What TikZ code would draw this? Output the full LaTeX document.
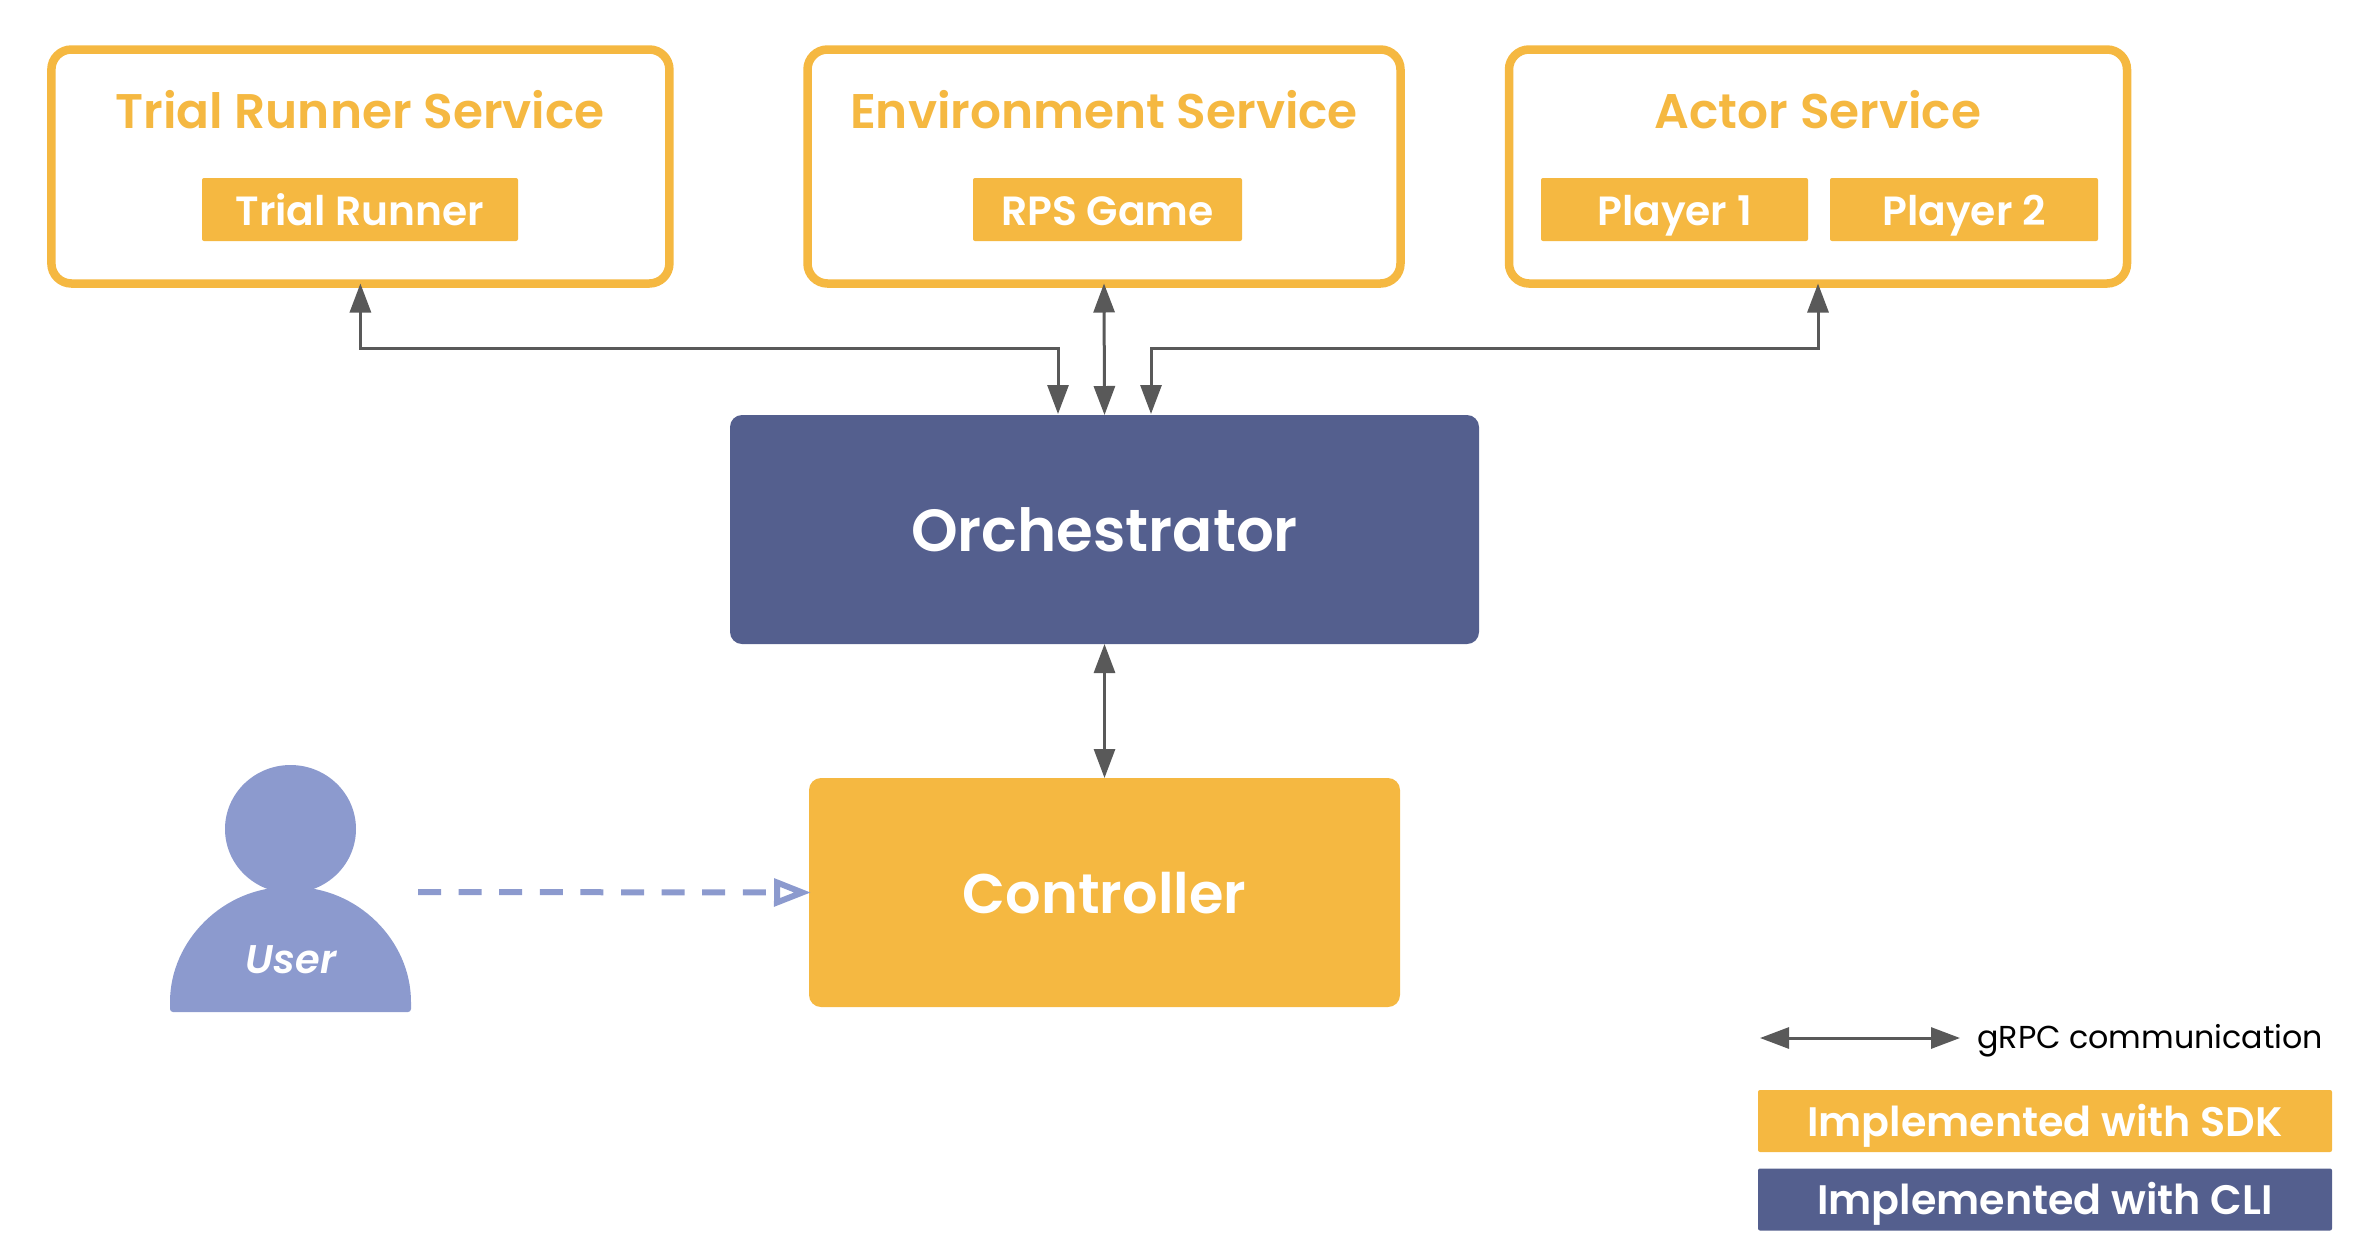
\documentclass[tikz,border=0pt]{standalone}
\usepackage{fontspec}
\setmainfont{Poppins}[BoldFont={Poppins SemiBold},BoldItalicFont={Poppins SemiBold Italic}]
\usetikzlibrary{arrows.meta}
\definecolor{sdk}{HTML}{F5B841}
\definecolor{cli}{HTML}{545F8E}
\definecolor{usr}{HTML}{8C9ACE}
\definecolor{conn}{HTML}{595959}
\newcommand{\fsz}[1]{\fontsize{#1pt}{#1pt}\bfseries\selectfont}
\tikzset{
  x=.5pt,y=-.5pt,
  svcbox/.style={draw=sdk,line width=4.25pt,rounded corners=10pt,fill=white,minimum height=117pt,outer sep=0pt,inner sep=0pt},
  title/.style={text=sdk,anchor=base,inner sep=0pt,font=\fsz{24.3}},
  chip/.style={fill=#1,text=white,rounded corners=1pt,inner sep=0pt,outer sep=0pt,text depth=0pt},
  chip/.default=sdk,
  small/.style={chip,font=\fsz{20.4},text height=15.8pt,minimum height=31.5pt},
  legendbox/.style={chip=#1,font=\fsz{20.6},text height=15pt,minimum height=31pt,minimum width=287pt},
  big/.style={chip=#1,rounded corners=6pt,minimum height=114.5pt},
  grpc/.style={draw=conn,line width=1.5pt,{Triangle[length=14.5pt,width=10.5pt]}-{Triangle[length=14.5pt,width=10.5pt]}},
  dashy/.style={draw=usr,line width=3pt,dash pattern=on 11.5pt off 8.8pt,shorten >=-1pt,-{Triangle[open,fill=white,length=18.5pt,width=13.5pt]}},
}
\begin{document}
\begin{tikzpicture}
\useasboundingbox (0,0) rectangle (2366,1254);
% services
\node[svcbox,minimum width=309pt] (tr) at (360.4,166.5) {};
\node[svcbox,minimum width=296.5pt] (env) at (1104,166.5) {};
\node[svcbox,minimum width=309pt] (act) at (1818,166.5) {};
\node[title] (trt) at (360,128.5) {Trial Runner Service};
\node[title] (envt) at (1104,128.5) {Environment Service};
\node[title] (actt) at (1818,128.5) {Actor Service};
\node[small,minimum width=158pt] (trc) at (360,209.5) {Trial Runner};
\node[small,minimum width=134.5pt] (rps) at (1107.5,209.5) {RPS Game};
\node[small,minimum width=133.5pt] (p1) at (1674.5,209.5) {Player 1};
\node[small,minimum width=134pt] (p2) at (1964,209.5) {Player 2};
% main
\node[big=cli,minimum width=374.5pt,font=\fsz{29.7},text height=21.8pt] (orch) at (1104.5,529.5) {Orchestrator};
\node[big=sdk,minimum width=295.5pt,font=\fsz{27.9},text height=20.5pt] (ctrl) at (1104.5,892.5) {Controller};
% connectors
\coordinate (jl) at (1058,348);
\coordinate (jr) at (1151,348);
\coordinate (ol) at (1058,414);
\coordinate (or) at (1151,414);
\draw[grpc] (tr.south) |- (jl) -- (ol);
\draw[grpc] (env.south) -- (orch.north);
\draw[grpc] (act.south) |- (jr) -- (or);
\draw[grpc] (orch.south) -- (ctrl.north);
% user
\fill[usr] (290.5,829) ellipse [x radius=32.75pt,y radius=32pt];
\fill[usr,rounded corners=1.5pt] (170,1005) .. controls (170,940) and (224,887) .. (290.5,887)
  .. controls (357,887) and (411,940) .. (411,1005) -- (411,1012) -- (170,1012) -- cycle;
\node[text=white,anchor=base,inner sep=0pt,font=\fsz{20}\itshape] (user) at (291,973) {User};
\coordinate (ustart) at (418,892);
\draw[dashy] (ustart) -- (ctrl.west);
% legend
\coordinate (la) at (1760,1038);
\coordinate (lb) at (1960,1038);
\draw[grpc] (la) -- (lb);
\node[anchor=base west,inner sep=0pt,font=\fontsize{15.85pt}{15.85pt}\selectfont] (lt) at (1977,1048) {gRPC communication};
\node[legendbox=sdk] (l1) at (2045,1121) {Implemented with SDK};
\node[legendbox=cli] (l2) at (2045,1199.5) {Implemented with CLI};
\end{tikzpicture}
\end{document}
